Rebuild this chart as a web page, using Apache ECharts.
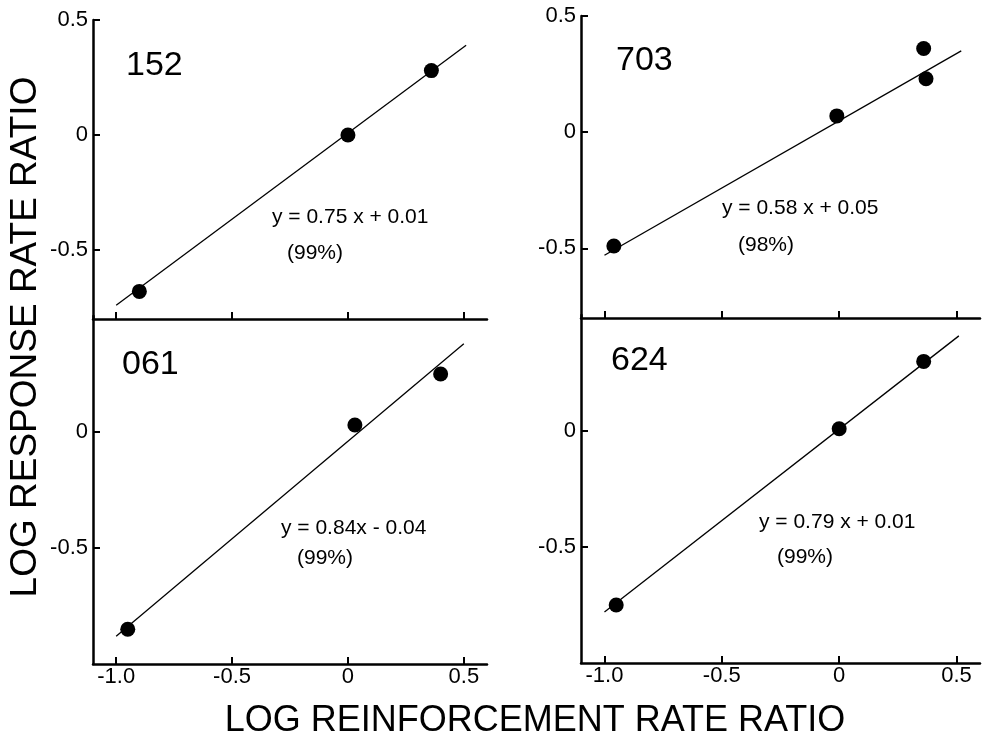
<!DOCTYPE html>
<html>
<head>
<meta charset="utf-8">
<script src="https://cdn.jsdelivr.net/npm/echarts@6/dist/echarts.min.js"></script>
<style>
  html, body { margin: 0; padding: 0; background: #fff; }
  #chart { width: 982px; height: 740px; }
</style>
</head>
<body>
<div id="chart"></div>
<script>
// panel order: top-left, top-right, bottom-left, bottom-right
const panelNames = ["152", "703", "061", "624"];
const equations = ["y = 0.75 x + 0.01", "y = 0.58 x + 0.05", "y = 0.84x - 0.04", "y = 0.79 x + 0.01"];
const fitPercents = ["(99%)", "(98%)", "(99%)", "(99%)"];

// data points [log reinforcement ratio, log response ratio]
const points152 = [[-0.90, -0.68], [0.00, 0.00], [0.36, 0.28]];
const points703 = [[-0.96, -0.49], [-0.01, 0.07], [0.36, 0.36], [0.37, 0.23]];
const points061 = [[-0.95, -0.85], [0.03, 0.03], [0.40, 0.25]];
const points624 = [[-0.95, -0.75], [0.00, 0.01], [0.36, 0.30]];

// fitted line end points
const fit152 = [[-1.0, -0.74], [0.51, 0.39]];
const fit703 = [[-1.0, -0.53], [0.52, 0.35]];
const fit061 = [[-1.0, -0.88], [0.50, 0.38]];
const fit624 = [[-1.0, -0.78], [0.51, 0.41]];

const xTickValues = [-1.0, -0.5, 0, 0.5];
const xTickLabels = ["-1.0", "-0.5", "0", "0.5"];
const yTopTicks = [-0.5, 0, 0.5];
const yBottomTicks = [-0.5, 0];

const allPoints = [points152, points703, points061, points624];
const allFits = [fit152, fit703, fit061, fit624];

const FONT = "'Liberation Sans', Arial, sans-serif";

function fmt(v) {
  const i = xTickValues.indexOf(v);
  if (i >= 0) return xTickLabels[i];
  return v === 0 ? "0" : v.toFixed(1);
}

// grid boxes in pixels
const grids = [
  { left: 93, top: 20, width: 394, height: 299 },
  { left: 581, top: 16, width: 399, height: 302 },
  { left: 93, top: 316, width: 394, height: 348 },
  { left: 581, top: 315, width: 399, height: 348 },
];

const axisLine = { show: true, onZero: false, lineStyle: { color: "#000", width: 2.5 } };

const xAxes = grids.map((g, i) => ({
  type: "value",
  gridIndex: i,
  min: -1.1,
  max: 0.6,
  axisLine: axisLine,
  splitLine: { show: false },
  axisTick: { show: true, inside: true, length: 7, lineStyle: { color: "#000", width: 2 }, customValues: xTickValues },
  axisLabel: {
    show: i >= 2,
    customValues: xTickValues,
    formatter: fmt,
    margin: 2,
    color: "#000",
    fontSize: 22,
    fontFamily: FONT,
  },
}));

const yAxes = grids.map((g, i) => {
  const ticks = i < 2 ? yTopTicks : yBottomTicks;
  return {
    type: "value",
    gridIndex: i,
    min: i < 2 ? -0.8 : -1.0,
    max: 0.5,
    axisLine: axisLine,
    splitLine: { show: false },
    axisTick: { show: true, inside: true, length: 7, lineStyle: { color: "#000", width: 2 }, customValues: ticks },
    axisLabel: {
      customValues: ticks,
      formatter: fmt,
      margin: 5,
      color: "#000",
      fontSize: 22,
      fontFamily: FONT,
    },
  };
});

const series = [];
allPoints.forEach((pts, i) => {
  series.push({
    type: "line",
    xAxisIndex: i,
    yAxisIndex: i,
    data: allFits[i],
    showSymbol: false,
    lineStyle: { color: "#000", width: 1.3 },
    silent: true,
    z: 2,
  });
  series.push({
    type: "scatter",
    xAxisIndex: i,
    yAxisIndex: i,
    data: pts,
    symbol: "circle",
    symbolSize: 15,
    itemStyle: { color: "#000", opacity: 1 },
    z: 3,
  });
});

// text placement (pixels)
const nameSpots = [[126, 66], [616, 61], [122, 365], [611, 361]];
const eqSpots = [[272, 217], [722, 208], [281, 528], [759, 522]];
const pctSpots = [[287, 253], [738, 245], [297, 558], [777, 557]];

const graphic = [];
panelNames.forEach((name, i) => {
  graphic.push({
    type: "text",
    x: nameSpots[i][0],
    y: nameSpots[i][1],
    style: { text: name, font: "34px " + FONT, fill: "#000", textAlign: "left", textVerticalAlign: "middle" },
  });
  graphic.push({
    type: "text",
    x: eqSpots[i][0],
    y: eqSpots[i][1],
    style: { text: equations[i], font: "21px " + FONT, fill: "#000", textAlign: "left", textVerticalAlign: "middle" },
  });
  graphic.push({
    type: "text",
    x: pctSpots[i][0],
    y: pctSpots[i][1],
    style: { text: fitPercents[i], font: "21px " + FONT, fill: "#000", textAlign: "left", textVerticalAlign: "middle" },
  });
});

graphic.push({
  type: "text",
  x: 535,
  y: 721,
  style: { text: "LOG REINFORCEMENT RATE RATIO", font: "36px " + FONT, fill: "#000", textAlign: "center", textVerticalAlign: "middle" },
});
graphic.push({
  type: "text",
  x: 26,
  y: 337,
  rotation: Math.PI / 2,
  style: { text: "LOG RESPONSE RATE RATIO", font: "37px " + FONT, fill: "#000", textAlign: "center", textVerticalAlign: "middle" },
});

const chart = echarts.init(document.getElementById("chart"));
chart.setOption({
  backgroundColor: "#fff",
  animation: false,
  grid: grids,
  xAxis: xAxes,
  yAxis: yAxes,
  series: series,
  graphic: graphic,
});
</script>
</body>
</html>
